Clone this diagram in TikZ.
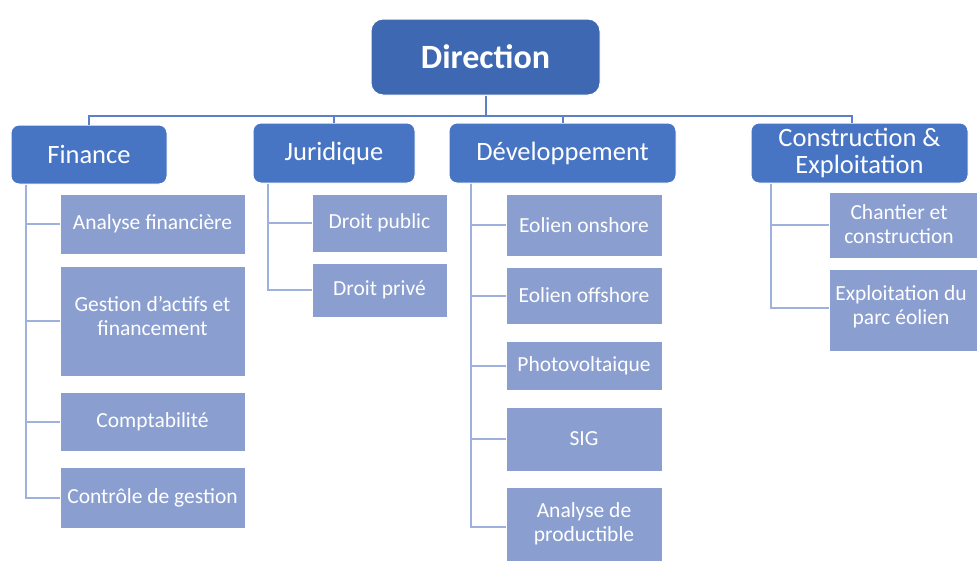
\documentclass[tikz,border=0pt]{standalone}
\usepackage{fontspec}
\setmainfont{Carlito}
\definecolor{cdir}{HTML}{3E68B1}
\definecolor{clvl}{HTML}{4775C4}
\definecolor{csub}{HTML}{8A9ED0}
\definecolor{cbus}{HTML}{5B80C8}
\definecolor{cline}{HTML}{9DB0DE}
\begin{document}
\begin{tikzpicture}[x=1pt,y=-1pt,
  dirbox/.style={draw=white, line width=1pt, fill=cdir, rounded corners=12pt, minimum width=229pt, minimum height=76pt, text=white, font=\fontsize{34}{36}\selectfont\bfseries, inner sep=0pt},
  lvlbox/.style={draw=white, line width=1pt, fill=clvl, rounded corners=8pt, minimum height=60pt, text=white, font=\fontsize{26.5}{27}\selectfont, align=center, inner sep=0pt},
  subbox/.style={draw=white, line width=0.6pt, fill=csub, text=white, font=\fontsize{21.5}{23.5}\selectfont, align=center, inner sep=0pt},
  subtxt/.style={text=white, font=\fontsize{21.5}{23.5}\selectfont, align=center, inner sep=0pt},
  bus/.style={draw=cbus, line width=2pt},
  sub/.style={draw=cline, line width=2pt}]
\useasboundingbox (0,0) rectangle (977,560);
\fill[white] (0,0) rectangle (977,560);

% top
\node[dirbox] (dir) at (485.5,57) {Direction};
\node[lvlbox, minimum width=156pt, minimum height=59pt] (fin) at (89,154.5) {Finance};
\node[lvlbox, minimum width=162pt] (jur) at (334,153) {Juridique};
\node[lvlbox, minimum width=227pt] (dev) at (562.5,153) {Développement};
\node[lvlbox, minimum width=217pt] (con) at (859.5,153) {Construction \&\\Exploitation};
\coordinate (busy) at (0,116);
\coordinate (conx) at (852,123);

% bus
\draw[bus] (dir.south) -- (dir.south |- busy);
\draw[bus] (fin.north) -- (fin.north |- busy) -- (conx |- busy) -- (conx);
\draw[bus] (jur.north) -- (jur.north |- busy);
\draw[bus] (dev.north) -- (dev.north |- busy);

% Finance children
\node[subbox, minimum width=185pt, minimum height=60pt] (af) at (152.5,224) {Analyse financière};
\node[subbox, minimum width=185pt, minimum height=110pt] (gest) at (152.5,321) {};
\node[subtxt] (gesttxt) at (152.5,316) {Gestion d’actifs et\\financement};
\node[subbox, minimum width=185pt, minimum height=59pt] (comp) at (152.5,421.5) {Comptabilité};
\node[subbox, minimum width=185pt, minimum height=61pt] (ctrl) at (152.5,497.5) {Contrôle de gestion};

% Juridique children
\node[subbox, minimum width=135pt, minimum height=58pt] (dpub) at (379.5,223) {Droit public};
\node[subbox, minimum width=135pt, minimum height=54pt] (dpriv) at (379.5,290) {Droit privé};

% Developpement children
\node[subbox, minimum width=156pt, minimum height=62pt] (eon) at (584,225) {Eolien onshore};
\node[subbox, minimum width=156pt, minimum height=57pt] (eoff) at (584,295.5) {Eolien offshore};
\node[subbox, minimum width=156pt, minimum height=49pt] (pv) at (584,365.5) {Photovoltaique};
\node[subbox, minimum width=156pt, minimum height=64pt] (sig) at (584,439) {SIG};
\node[subbox, minimum width=156pt, minimum height=80pt] (adp) at (584,527) {};
\node[subtxt] (adptxt) at (584,524) {Analyse de\\productible};

% Construction children
\node[subbox, minimum width=160pt, minimum height=66pt] (chan) at (909,225) {};
\node[subtxt] (chantxt) at (899,224) {Chantier et\\construction};
\node[subbox, minimum width=160pt, minimum height=82pt] (expl) at (909,310) {};
\node[subtxt] (expltxt) at (901,307) {Exploitation du\\parc éolien};

% sub connectors
\draw[sub] ([xshift=15pt]fin.south west) |- (af.west);
\draw[sub] ([xshift=15pt]fin.south west) |- (gest.west);
\draw[sub] ([xshift=15pt]fin.south west) |- (comp.west);
\draw[sub] ([xshift=15pt]fin.south west) |- (ctrl.west);
\draw[sub] ([xshift=15pt]jur.south west) |- (dpub.west);
\draw[sub] ([xshift=15pt]jur.south west) |- (dpriv.west);
\draw[sub] ([xshift=22pt]dev.south west) |- (eon.west);
\draw[sub] ([xshift=22pt]dev.south west) |- (eoff.west);
\draw[sub] ([xshift=22pt]dev.south west) |- (pv.west);
\draw[sub] ([xshift=22pt]dev.south west) |- (sig.west);
\draw[sub] ([xshift=22pt]dev.south west) |- (adp.west);
\draw[sub] ([xshift=20pt]con.south west) |- (chan.west);
\draw[sub] ([xshift=20pt]con.south west) |- ([yshift=2pt]expl.west);
\end{tikzpicture}
\end{document}
